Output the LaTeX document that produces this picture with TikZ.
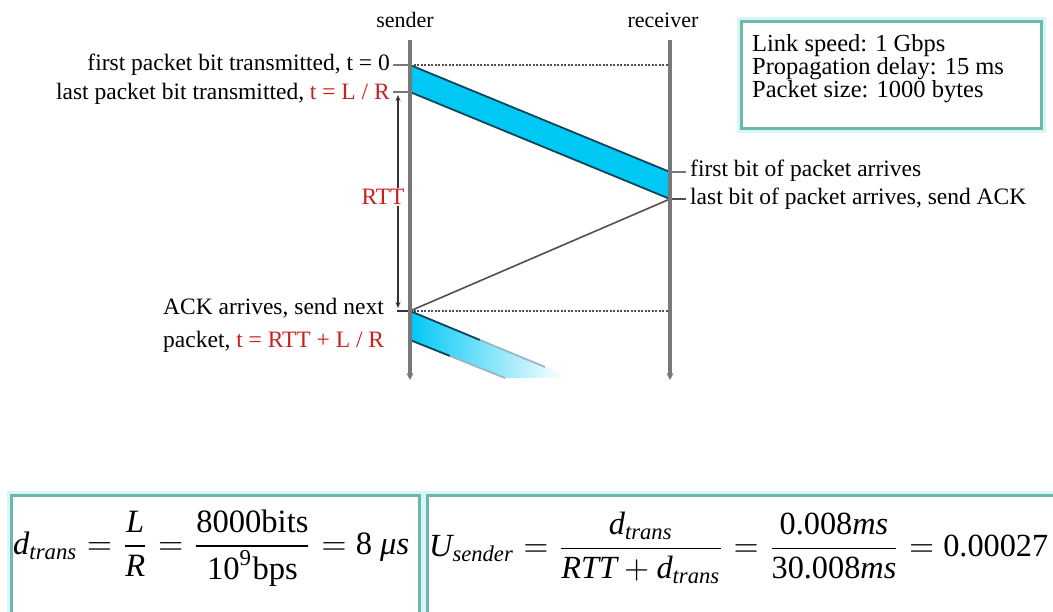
\documentclass[tikz,border=0pt]{standalone}
\usepackage{amsmath}
\usepackage{fontspec}
\setmainfont{Liberation Serif}
\usetikzlibrary{arrows.meta}
\definecolor{pkt}{RGB}{0,200,245}
\definecolor{pktedge}{RGB}{10,70,90}
\definecolor{boxc}{RGB}{110,185,165}
\definecolor{redt}{RGB}{205,30,30}
\definecolor{lineg}{RGB}{120,120,120}
\definecolor{dotg}{RGB}{80,80,80}
\definecolor{halo}{RGB}{215,245,250}
\tikzset{
  lbl/.style={inner sep=0pt, font=\fontsize{23.5}{23}\selectfont},
  boxlbl/.style={inner sep=0pt, font=\fontsize{24.5}{23}\selectfont},
  hdr/.style={inner sep=0pt, font=\fontsize{22}{22}\selectfont},
  timeline/.style={draw=lineg, line width=3.5pt, -{Stealth[length=7pt,width=7pt]}},
  tick/.style={draw=lineg, line width=1.6pt},
  dotline/.style={draw=dotg, line width=1.3pt, dash pattern=on 2pt off 1.5pt},
  band/.style={fill=pkt, draw=pktedge, line width=1.8pt},
  infobox/.style={draw=boxc, line width=3pt, fill=white, inner sep=0pt,
    preaction={draw=halo, line width=9pt}},
  rttarrow/.style={draw=black!80, line width=1.4pt, -{Stealth[length=6pt,width=5pt]}}
}
\begin{document}
\begin{tikzpicture}[x=1pt,y=-1pt]
\useasboundingbox (0,0) rectangle (1053,612);

% headers
\node[hdr] (sender) at (405,20) {sender};
\node[hdr] (receiver) at (663,20) {receiver};

% time line coordinates
\coordinate (s0) at (410,40);
\coordinate (s1) at (410,380);
\coordinate (r0) at (670,40);
\coordinate (r1) at (670,380);
\coordinate (sA) at (410,65);
\coordinate (sB) at (410,92);
\coordinate (rA) at (670,172);
\coordinate (rB) at (670,199);
\coordinate (sC) at (410,311);
\coordinate (sD) at (410,340);

% dotted reference lines
\draw[dotline] (sA) -- (670,65);
\draw[dotline] (sC) -- (670,311);

% first packet band
\draw[band] (sA) -- (rA) -- (rB) -- (sB) -- cycle;

% ACK line
\draw[draw=dotg, line width=1.6pt] (rB) -- (sC);

% second packet band, fading
\shade[left color=pkt, right color=white] (sC) -- (565,375) -- (565,378) -- (505,378) -- (sD) -- cycle;
\draw[draw=pktedge, line width=1.8pt] (sC) -- (480,340);
\draw[draw=pktedge!40, line width=1.8pt] (480,340) -- (545,367);
\draw[draw=pktedge, line width=1.8pt] (sD) -- (450,356);
\draw[draw=pktedge!40, line width=1.8pt] (450,356) -- (505,378);

% RTT
\node[lbl, text=redt, fill=white, inner sep=1pt] (rtt) at (383,197) {RTT};
\draw[rttarrow] (rtt.north -| 398,0) -- (398,95);
\draw[rttarrow] (rtt.south -| 398,0) -- (398,308);
\draw[draw=black!80, line width=1.4pt] (397,311) -- (sC);

% ticks
\draw[tick] (393,65) -- (sA);
\draw[tick] (393,92) -- (sB);
\draw[tick] (rA) -- (686,172);
\draw[tick, draw=dotg] (rB) -- (686,199);

% sender / receiver time lines
\draw[timeline] (s0) -- (s1);
\draw[timeline] (r0) -- (r1);

% left labels
\node[lbl, anchor=base east] (l1) at (390,71) {first packet bit transmitted, t = 0};
\node[lbl, anchor=base east] (l2) at (390,100) {last packet bit transmitted, \textcolor{redt}{t = L / R}};
\node[lbl, anchor=base west] (l3) at (163,315) {ACK arrives, send next};
\node[lbl, anchor=base west] (l4) at (163,348) {packet, \textcolor{redt}{t = RTT + L / R}};

% right labels
\node[lbl, anchor=base west] (r1l) at (690,177) {first bit of packet arrives};
\node[lbl, anchor=base west] (r2l) at (690,205) {last bit of packet arrives, send ACK};

% info box
\node[infobox, minimum width=300pt, minimum height=107pt, anchor=north west] (info) at (740,20) {};
\node[boxlbl, anchor=base west] (i1) at (752,52) {Link speed: 1 Gbps};
\node[boxlbl, anchor=base west] (i2) at (752,75) {Propagation delay: 15 ms};
\node[boxlbl, anchor=base west] (i3) at (752,98) {Packet size: 1000 bytes};

% formula boxes
\node[infobox, minimum width=408pt, minimum height=125pt, anchor=north west] (f1box) at (10,494) {};
\node[infobox, minimum width=640pt, minimum height=125pt, anchor=north west] (f2box) at (426,494) {};

\node[inner sep=0pt, anchor=west] (f1) at (13,548) {\resizebox{396pt}{!}{$\displaystyle
  \textit{d}_{\textit{trans}} = \frac{\textit{L}}{\textit{R}} = \frac{\text{8000bits}}{\text{10}^{\text{9}}\text{bps}} = \text{8 }\textit{μs}$}};
\node[inner sep=0pt, anchor=west] (f2) at (429,548) {\resizebox{619pt}{!}{$\displaystyle
  \textit{U}_{\textit{sender}} = \frac{\textit{d}_{\textit{trans}}}{\textit{RTT} + \textit{d}_{\textit{trans}}} = \frac{\text{0.008}\textit{ms}}{\text{30.008}\textit{ms}} = \text{0.00027}$}};
\end{tikzpicture}
\end{document}
